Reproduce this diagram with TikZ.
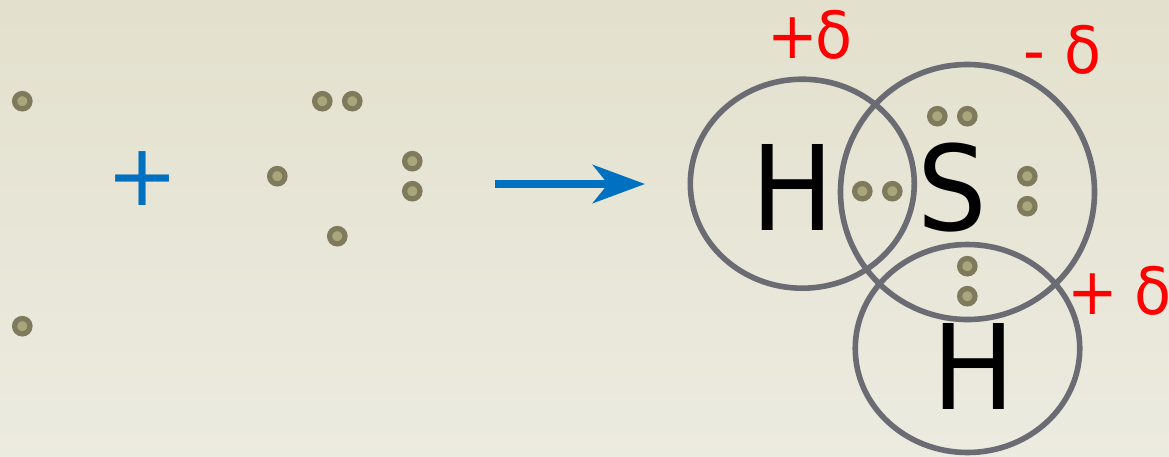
\documentclass[tikz,border=0pt]{standalone}
\usepackage{fontspec}
\setmainfont{DejaVu Sans}[FakeStretch=0.93]
\newfontfamily\plainfont{DejaVu Sans}
\usetikzlibrary{arrows.meta,shapes.geometric}
\definecolor{bgtop}{HTML}{E3E0CD}
\definecolor{bgbot}{HTML}{ECEBE0}
\definecolor{dotrim}{HTML}{7F7A5C}
\definecolor{dotcore}{HTML}{A9A67C}
\definecolor{orbit}{HTML}{6B6B73}
\definecolor{arrowblue}{HTML}{0070C0}
\tikzset{
  electron/.style={circle,draw=dotrim,fill=dotcore,line width=5.2pt,minimum size=15.4pt,inner sep=0pt,outer sep=0pt,xshift=0.3pt,yshift=-0.2pt},
  orbital/.style={ellipse,draw=orbit,line width=5.6pt,inner sep=0pt,outer sep=0pt},
  element/.style={anchor=base,inner sep=0pt,font=\fontsize{118}{118}\selectfont,text=black},
  charge/.style={anchor=base west,inner sep=0pt,font=\fontsize{65}{65}\selectfont,text=red},
  reacts/.style={line width=8pt,draw=arrowblue,-{Stealth[length=52pt,width=38pt,inset=15pt]}}
}
\begin{document}
\begin{tikzpicture}[x=1pt,y=-1pt]
\useasboundingbox (0,0) rectangle (1169,456);
\shade[top color=bgtop,bottom color=bgbot] (0,0) rectangle (1169,456);
% free electrons
\node[electron] (e1) at (22,101) {};
\node[electron] (e2) at (22,326) {};
\node[electron] (e3) at (322,101) {};
\node[electron] (e4) at (352,101) {};
\node[electron] (e5) at (277,176) {};
\node[electron] (e6) at (412,161) {};
\node[electron] (e7) at (412,191) {};
\node[electron] (e8) at (337,236) {};
\node[anchor=base,inner sep=0pt,font=\plainfont\fontsize{86}{86}\selectfont,text=arrowblue] (plus) at (143,205.2) {+};
% arrow
\coordinate (arrowtail) at (495,184);
\coordinate (arrowtip) at (645,184);
\draw[reacts] (arrowtail) -- (arrowtip);
% orbitals
\node[orbital,minimum width=224pt,minimum height=209pt] (orbH1) at (802.3,183.7) {};
\node[orbital,minimum width=254pt,minimum height=255pt] (orbS) at (967.5,192) {};
\node[orbital,minimum width=224.5pt,minimum height=208pt] (orbH2) at (967.5,348.5) {};
% bound electrons
\node[electron] (b1) at (937,116) {};
\node[electron] (b2) at (967,116) {};
\node[electron] (b3) at (862,191) {};
\node[electron] (b4) at (892,191) {};
\node[electron] (b5) at (1027,176) {};
\node[electron] (b6) at (1027,206) {};
\node[electron] (b7) at (967,266) {};
\node[electron] (b8) at (967,296) {};
% letters
\node[element] (H1) at (792.8,230) {H};
\node[element] (S) at (952.3,230) {S};
\node[element] (H2) at (973.7,409.3) {H};
% charges
\node[charge] (c1) at (767,58) {+\kern-2.5pt δ};
\node[charge] (c2) at (1023,73) {- δ};
\node[charge] (c3) at (1067,314) {+\kern-3pt{} δ};
\end{tikzpicture}
\end{document}
